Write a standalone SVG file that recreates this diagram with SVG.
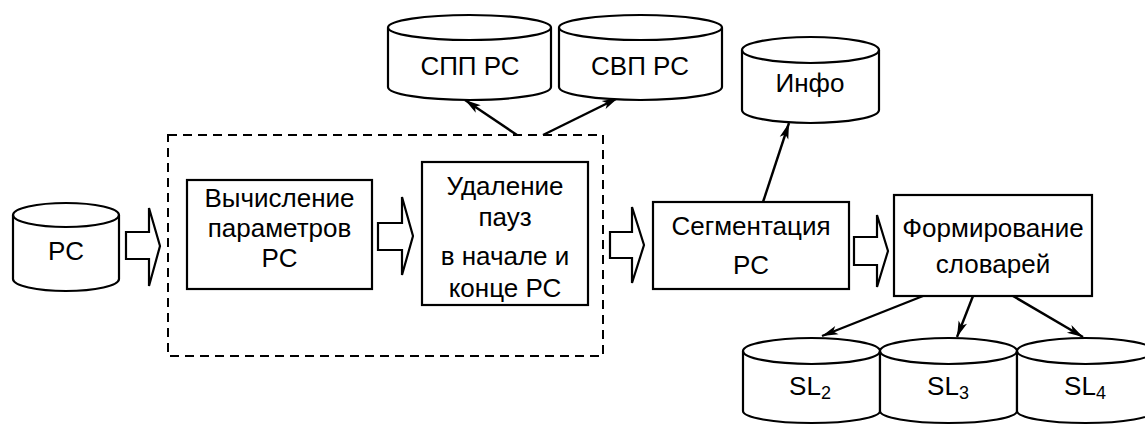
<svg xmlns="http://www.w3.org/2000/svg" width="1145" height="426" viewBox="0 0 1145 426">
<defs>
<marker id="ah" markerUnits="userSpaceOnUse" markerWidth="18" markerHeight="10" refX="16" refY="5" orient="auto" overflow="visible">
<path d="M0,0.5 L16,5 L0,9.5 L4,5 z" fill="#000"/>
</marker>
<style>
.sh{fill:#fff;stroke:#000;stroke-width:2.2;stroke-linejoin:miter}
.ln{fill:none;stroke:#000;stroke-width:2.2}
.t{font-family:"Liberation Sans",Arial,sans-serif;font-size:26px;fill:#000;text-anchor:middle}
.con{fill:none;stroke:#000;stroke-width:2.4;marker-end:url(#ah)}
</style>
</defs>
<rect width="1145" height="426" fill="#fff"/>

<g id="group-dashed">
<rect x="168" y="135" width="435" height="221" fill="none" stroke="#000" stroke-width="2" stroke-dasharray="9 6"/>
</g>

<g id="connectors">
<polygon class="sh" points="126,232 149,232 149,208 160,246 149,286 149,259 126,259"/>
<polygon class="sh" points="378,223 402,223 402,197 413,236 402,275 402,250 378,250"/>
<polygon class="sh" points="610,232 632,232 632,207 644,245 632,283 632,258 610,258"/>
<polygon class="sh" points="854,237 877,237 877,215 888,251 877,287 877,265 854,265"/>
<line class="con" x1="517" y1="135" x2="465" y2="100"/>
<line class="con" x1="543" y1="135" x2="618" y2="98"/>
<line class="con" x1="763" y1="202" x2="789" y2="123"/>
<line class="con" x1="923" y1="296" x2="822" y2="336"/>
<line class="con" x1="973" y1="296" x2="957" y2="337"/>
<line class="con" x1="1013" y1="296" x2="1083" y2="337"/>
</g>

<g id="rs">
<path class="sh" d="M13,215 V279 A53,12 0 0 0 119,279 V215 A53,12 0 0 0 13,215 Z"/>
<path class="ln" d="M13,215 A53,12 0 0 0 119,215"/>
<text class="t" x="66" y="260">РС</text>
</g>

<g id="calc">
<rect class="sh" x="187" y="180" width="185" height="109"/>
<text class="t" x="279.5" y="207">Вычисление</text>
<text class="t" x="279.5" y="237">параметров</text>
<text class="t" x="279.5" y="267">РС</text>
</g>

<g id="remove">
<rect class="sh" x="422" y="162" width="166" height="143"/>
<text class="t" x="505" y="195">Удаление</text>
<text class="t" x="505" y="226">пауз</text>
<text class="t" x="505" y="265">в начале и</text>
<text class="t" x="505" y="297">конце РС</text>
</g>

<g id="segm">
<rect class="sh" x="653" y="202" width="196" height="87"/>
<text class="t" x="751" y="235">Сегментация</text>
<text class="t" x="751" y="274">РС</text>
</g>

<g id="form">
<rect class="sh" x="894" y="195" width="198" height="101"/>
<text class="t" x="993" y="237">Формирование</text>
<text class="t" x="993" y="273">словарей</text>
</g>

<g id="spp">
<path class="sh" d="M388,27.5 V87 A81.5,13 0 0 0 551,87 V27.5 A81.5,12.5 0 0 0 388,27.5 Z"/>
<path class="ln" d="M388,27.5 A81.5,12.5 0 0 0 551,27.5"/>
<text class="t" x="470" y="75">СПП РС</text>
</g>

<g id="svp">
<path class="sh" d="M559,27.5 V87 A81.5,13 0 0 0 722,87 V27.5 A81.5,12.5 0 0 0 559,27.5 Z"/>
<path class="ln" d="M559,27.5 A81.5,12.5 0 0 0 722,27.5"/>
<text class="t" x="640" y="75">СВП РС</text>
</g>

<g id="info">
<path class="sh" d="M742,50 V110 A68.5,13 0 0 0 879,110 V50 A68.5,13 0 0 0 742,50 Z"/>
<path class="ln" d="M742,50 A68.5,13 0 0 0 879,50"/>
<text class="t" x="810" y="92">Инфо</text>
</g>

<g id="sl2">
<path class="sh" d="M743,351 V411 A68.5,12 0 0 0 880,411 V351 A68.5,13 0 0 0 743,351 Z"/>
<path class="ln" d="M743,351 A68.5,13 0 0 0 880,351"/>
<text class="t" x="810" y="395">SL<tspan font-size="18" dy="4">2</tspan></text>
</g>

<g id="sl3">
<path class="sh" d="M880,351 V411 A68.5,12 0 0 0 1017,411 V351 A68.5,13 0 0 0 880,351 Z"/>
<path class="ln" d="M880,351 A68.5,13 0 0 0 1017,351"/>
<text class="t" x="948" y="395">SL<tspan font-size="18" dy="4">3</tspan></text>
</g>

<g id="sl4">
<path class="sh" d="M1017,351 V411 A68.5,12 0 0 0 1154,411 V351 A68.5,13 0 0 0 1017,351 Z"/>
<path class="ln" d="M1017,351 A68.5,13 0 0 0 1154,351"/>
<text class="t" x="1085" y="395">SL<tspan font-size="18" dy="4">4</tspan></text>
</g>
</svg>
